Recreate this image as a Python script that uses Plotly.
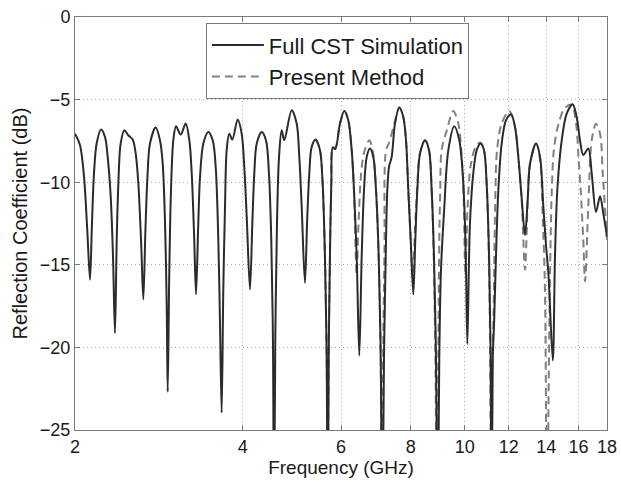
import plotly.graph_objects as go

# ---- data ----
cst_freq = [2.00, 2.042, 2.076, 2.104, 2.128, 2.145, 2.163, 2.187, 2.227, 2.264, 2.289, 2.318,
            2.340, 2.359, 2.376, 2.392, 2.415, 2.452, 2.492, 2.538, 2.570, 2.598, 2.627, 2.652,
            2.674, 2.696, 2.726, 2.791, 2.841, 2.873, 2.901, 2.921, 2.933, 2.952, 2.973, 3.002,
            3.035, 3.095, 3.159, 3.207, 3.239, 3.270, 3.297, 3.325, 3.352, 3.398, 3.468, 3.532,
            3.576, 3.615, 3.640, 3.665, 3.690, 3.716, 3.742, 3.782, 3.830, 3.916, 3.981, 4.024,
            4.065, 4.120, 4.160, 4.194, 4.236, 4.324, 4.401, 4.456, 4.499, 4.530, 4.549, 4.574,
            4.606, 4.645, 4.696, 4.747, 4.894, 4.996, 5.051, 5.101, 5.170, 5.220, 5.264, 5.316,
            5.404, 5.501, 5.562, 5.615, 5.655, 5.679, 5.705, 5.735, 5.765, 5.800, 5.860, 5.975,
            6.082, 6.183, 6.271, 6.331, 6.402, 6.471, 6.535, 6.598, 6.672, 6.763, 6.856, 6.934,
            7.011, 7.069, 7.116, 7.166, 7.217, 7.264, 7.316, 7.397, 7.499, 7.633, 7.760, 7.848,
            7.923, 8.002, 8.088, 8.155, 8.223, 8.315, 8.489, 8.630, 8.726, 8.809, 8.882, 8.945,
            9.004, 9.068, 9.193, 9.346, 9.580, 9.780, 9.919, 10.00, 10.054, 10.11, 10.22, 10.36,
            10.51, 10.68, 10.83, 10.95, 11.06, 11.13, 11.18, 11.23, 11.29, 11.38, 11.49, 11.65,
            11.86, 12.11, 12.31, 12.48, 12.65, 12.83, 12.97, 13.10, 13.43, 13.65, 13.84, 13.99,
            14.13, 14.39, 14.52, 14.66, 14.93, 15.24, 15.62, 15.88, 16.10, 16.32, 16.66, 16.90,
            17.20, 17.49, 17.73, 18.0]
cst_db = [-7.06, -7.76, -9.68, -12.9, -15.9, -12.5, -9.48, -7.66, -6.81, -7.26, -8.47, -10.9,
          -14.5, -19.15, -13.5, -10.1, -7.66, -6.85, -7.16, -7.42, -8.27, -10.08, -13.5, -17.1,
          -13.1, -9.88, -7.66, -6.69, -7.46, -8.87, -12.5, -17.5, -22.7, -15.5, -10.5, -7.46,
          -6.61, -7.12, -6.45, -7.46, -9.48, -13.1, -16.8, -12.9, -9.68, -7.66, -6.96, -7.46,
          -9.07, -13.5, -18.5, -23.95, -16.5, -11.5, -8.06, -7.06, -7.42, -6.21, -7.06, -9.07,
          -12.1, -16.5, -12.5, -9.48, -7.66, -6.96, -7.46, -9.48, -13.5, -19.6, -32.0, -19.6,
          -12.5, -8.47, -6.85, -7.46, -5.65, -6.45, -8.47, -11.5, -16.1, -12.1, -9.48, -7.86,
          -7.42, -8.06, -10.1, -14.5, -20.6, -32.0, -20.0, -14.0, -10.0, -7.9, -8.0, -6.45,
          -5.69, -6.25, -8.06, -10.5, -14.5, -20.5, -14.5, -10.5, -8.47, -7.96, -8.47, -10.5,
          -14.5, -20.6, -32.0, -20.6, -14.5, -10.5, -9.07, -8.47, -6.45, -5.48, -6.05, -7.46,
          -10.5, -13.5, -16.8, -13.5, -10.5, -8.27, -7.46, -8.06, -10.5, -14.5, -20.6, -32.0,
          -20.6, -15.3, -11.5, -8.06, -6.61, -7.46, -9.48, -12.0, -15.2, -19.8, -12.5, -9.48,
          -8.06, -7.66, -8.06, -10.1, -14.5, -20.6, -32.0, -20.6, -18.6, -14.5, -10.5, -7.66,
          -6.25, -5.89, -6.65, -8.47, -10.9, -13.2, -11.1, -8.87, -7.66, -8.47, -11.5, -13.8,
          -15.5, -20.8, -14.5, -10.5, -7.46, -5.85, -5.28, -6.05, -7.46, -8.36, -7.96, -9.48,
          -11.8, -10.85, -11.9, -13.3]

pm_freq = [5.404, 5.501, 5.562, 5.615, 5.655, 5.679, 5.705, 5.735, 5.765, 5.800, 5.860, 5.975,
           6.082, 6.183, 6.271, 6.331, 6.40, 6.45, 6.52, 6.60, 6.745, 6.856, 6.934, 7.011,
           7.069, 7.10, 7.14, 7.18, 7.226, 7.32, 7.499, 7.633, 7.760, 7.848, 7.923, 8.002,
           8.07, 8.14, 8.223, 8.315, 8.489, 8.630, 8.726, 8.80, 8.86, 8.92, 8.97, 9.00,
           9.04, 9.09, 9.29, 9.54, 9.74, 9.88, 9.95, 10.03, 10.12, 10.25, 10.45, 10.66,
           10.83, 10.95, 11.05, 11.11, 11.15, 11.21, 11.26, 11.34, 11.43, 11.65, 12.02, 12.31,
           12.48, 12.65, 12.83, 12.97, 13.10, 13.43, 13.65, 13.80, 13.93, 14.05, 14.15, 14.25,
           14.33, 14.45, 14.70, 15.09, 15.55, 15.85, 16.00, 16.15, 16.32, 16.44, 16.66, 16.90,
           17.20, 17.49, 17.69, 18.0]
pm_db = [-7.42, -8.06, -10.1, -14.5, -20.6, -32.0, -20.0, -14.0, -10.0, -7.9, -7.9, -6.45,
         -5.69, -6.25, -8.06, -10.5, -15.6, -12.5, -9.5, -8.2, -7.46, -8.3, -10.5, -14.5,
         -20.6, -32.0, -20.6, -14.0, -8.07, -7.6, -6.3, -5.48, -6.05, -7.46, -10.5, -13.5,
         -15.8, -13.0, -10.2, -8.2, -7.46, -8.06, -10.5, -14.5, -20.6, -32.0, -20.6, -14.0,
         -10.5, -8.07, -6.85, -5.69, -6.45, -8.47, -10.5, -15.6, -11.5, -9.0, -7.9, -7.6,
         -8.06, -10.1, -14.5, -20.6, -32.0, -20.6, -18.5, -11.5, -8.07, -6.45, -5.69, -6.65,
         -8.47, -11.0, -15.3, -11.3, -8.87, -7.66, -8.6, -12.0, -16.5, -32.0, -22.0, -14.0,
         -10.5, -8.07, -6.6, -5.55, -5.3, -6.5, -8.47, -10.5, -13.5, -16.0, -11.5, -7.46,
         -6.46, -7.06, -9.48, -13.5]

x_ticks = [2, 4, 6, 8, 10, 12, 14, 16, 18]
y_ticks = [0, -5, -10, -15, -20, -25]
series_names = ["Full CST Simulation", "Present Method"]

FONT = "Liberation Sans, Arial, Helvetica, sans-serif"
AXIS_GRAY = "#7a7a7a"
GRID_GRAY = "#a8a8a8"

fig = go.Figure()
fig.add_trace(go.Scatter(
    x=pm_freq, y=pm_db, mode="lines", name=series_names[1],
    line=dict(color="#808080", width=2, dash="8px,5px", shape="spline", smoothing=0.9),
))
fig.add_trace(go.Scatter(
    x=cst_freq, y=cst_db, mode="lines", name=series_names[0],
    line=dict(color="#2b2b2b", width=2, shape="spline", smoothing=0.9),
))

fig.update_layout(
    width=621, height=482,
    margin=dict(l=75, r=14, t=17, b=52, autoexpand=False),
    paper_bgcolor="white", plot_bgcolor="white",
    font=dict(family=FONT, size=18, color="#1a1a1a"),
    showlegend=True,
    legend=dict(
        x=0.246, y=0.985, xanchor="left", yanchor="top",
        bgcolor="white", bordercolor=AXIS_GRAY, borderwidth=1,
        font=dict(family=FONT, size=22, color="#1a1a1a"),
        traceorder="reversed", itemwidth=52,
    ),
    xaxis=dict(
        type="log", range=[0.30103, 1.255273], automargin=False, ticklabeloverflow="allow",
        tickvals=x_ticks, ticktext=[str(v) for v in x_ticks],
        ticks="inside", ticklen=5, tickcolor=AXIS_GRAY,
        showline=True, linecolor=AXIS_GRAY, linewidth=1, mirror="ticks",
        showgrid=True, gridcolor=GRID_GRAY, griddash="1px,3px", gridwidth=1,
        zeroline=False,
        tickfont=dict(size=18),
        title=dict(text="Frequency (GHz)", font=dict(size=19), standoff=4),
    ),
    yaxis=dict(
        range=[-25, 0], tickvals=y_ticks, automargin=False, ticklabeloverflow="allow",
        ticks="inside", ticklen=5, tickcolor=AXIS_GRAY,
        showline=True, linecolor=AXIS_GRAY, linewidth=1, mirror="ticks",
        showgrid=True, gridcolor=GRID_GRAY, griddash="1px,3px", gridwidth=1,
        zeroline=False,
        tickfont=dict(size=18),
        title=dict(text="Reflection Coefficient (dB)", font=dict(size=20), standoff=6),
    ),
)

fig.write_html(
    "out.html",
    config={"displayModeBar": False},
    post_script="document.body.style.margin='0';document.body.style.overflow='hidden';",
)
